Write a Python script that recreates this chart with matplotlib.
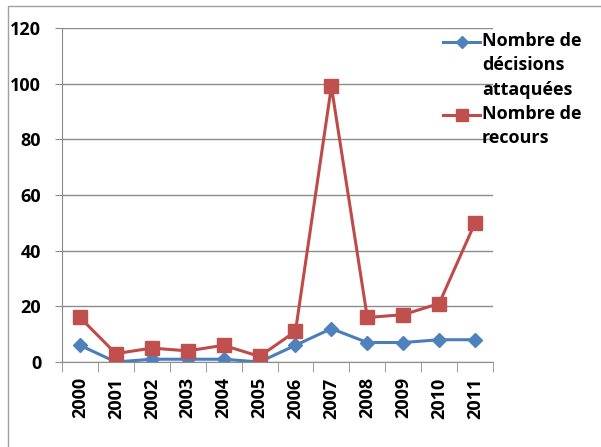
import matplotlib.pyplot as plt
import numpy as np
from matplotlib.patches import Rectangle
from matplotlib.lines import Line2D

years = ['2000', '2001', '2002', '2003', '2004', '2005',
         '2006', '2007', '2008', '2009', '2010', '2011']
decisions = [6, 0, 1, 1, 1, 0, 6, 12, 7, 7, 8, 8]
recours = [16, 3, 5, 4, 6, 2, 11, 99, 16, 17, 21, 50]

plt.rcParams['font.family'] = ['Open Sans', 'DejaVu Sans']
plt.rcParams['font.weight'] = 'bold'

fig = plt.figure(figsize=(6.01, 4.47), dpi=100)
fig.patches.append(Rectangle((8 / 601, -0.1), 0.99, 1.1 - 6 / 447, transform=fig.transFigure,
                             fill=False, edgecolor='#a0a0a0', linewidth=1))
ax = fig.add_axes([62 / 601, 1 - 362 / 447, 431 / 601, 334 / 447])

x = np.arange(len(years))
blue, red = '#4a7ebb', '#be4b48'
ax.plot(x, decisions, color=blue, linewidth=2.2, marker='D', markersize=7,
        markerfacecolor='#4f81bd', markeredgecolor='#4f81bd')
ax.plot(x, recours, color=red, linewidth=2.2, marker='s', markersize=9.5,
        markerfacecolor='#c0504d', markeredgecolor='#c0504d')

ax.set_xlim(-0.5, len(years) - 0.5)
ax.set_ylim(0, 120)
ax.set_yticks(range(0, 121, 20))
ax.yaxis.grid(True, color='#8c8c8c', linewidth=1)
ax.set_axisbelow(True)
ax.set_xticks(x)
ax.set_xticklabels(years, rotation=90, fontsize=13, fontweight='bold')
ax.tick_params(axis='x', length=0, pad=11)
ax.set_xticks(np.arange(-0.5, len(years), 1), minor=True)
ax.tick_params(axis='x', which='minor', length=7, color='#8c8c8c')
ax.tick_params(axis='y', length=5, color='#8c8c8c', labelsize=13, pad=10)
for lab in ax.get_yticklabels():
    lab.set_fontweight('bold')
for s in ['top', 'right']:
    ax.spines[s].set_visible(False)
ax.spines['left'].set_color('#8c8c8c')
ax.spines['bottom'].set_color('#8c8c8c')

# legend, handles aligned with the first line of each entry
entries = [(blue, '#4f81bd', 'D', 6, 'Nombre de\ndécisions\nattaquées', 42),
           (red, '#c0504d', 's', 8, 'Nombre de\nrecours', 115)]
for lc, mc, mk, ms, txt, ypx in entries:
    yf = 1 - ypx / 447
    fig.add_artist(Line2D([443 / 601, 480 / 601], [yf, yf], transform=fig.transFigure,
                          color=lc, linewidth=2.2))
    fig.add_artist(Line2D([461.5 / 601], [yf], transform=fig.transFigure, marker=mk,
                          markersize=ms, color=mc, linestyle='none'))
    fig.text(482 / 601, yf + 10 / 447, txt, fontsize=13, fontweight='bold', va='top',
             ha='left', linespacing=1.45)

fig.savefig('out.png', dpi=100)
